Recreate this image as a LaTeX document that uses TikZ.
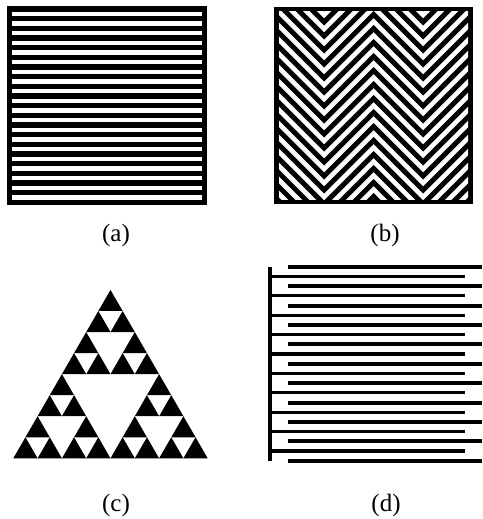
\documentclass[tikz,border=0pt]{standalone}
\usepackage{fontspec}
\setmainfont{Liberation Serif}
\tikzset{
  lbl/.style={inner sep=0pt, font=\fontsize{25}{28}\selectfont},
  whiteline/.style={draw=white, line width=4.6pt, line join=miter, line cap=butt},
}
\begin{document}
\begin{tikzpicture}[x=1pt,y=-1pt]
\useasboundingbox[fill=white] (0,0) rectangle (482,519);
% (a) horizontal stripes
\fill[black] (7,6) rectangle (207,205);
\foreach \i in {0,...,19}
  \fill[white] (12,{14+9.65*\i-2.15}) rectangle (202.3,{14+9.65*\i+2.15});
% (b) zigzag stripes
\fill[black] (274,7) rectangle (473,204);
\begin{scope}
  \clip (279,12) rectangle (468,199);
  \foreach \k in {0,...,19}{
    \pgfmathsetmacro{\c}{15+14*\k}
    \draw[whiteline] (260,{\c-64}) -- (324,\c) -- (373.5,{\c-49.5}) -- (423,\c) -- (487,{\c-64});
  }
\end{scope}
% (c) Sierpinski triangle
\foreach \ax/\ay in {0/0, 97.2/0, 48.6/-84.18}
  \foreach \bx/\by in {0/0, 48.6/0, 24.3/-42.09}
    \foreach \cx/\cy in {0/0, 24.3/0, 12.15/-21.045}
      \fill[black] ({13.3+\ax+\bx+\cx},{458.3+\ay+\by+\cy}) -- ++(24.3,0) -- ++(-12.15,-21.045) -- cycle;
% (d) interdigitated comb
\fill[black] (267.5,266.7) rectangle (272,460.7);
\foreach \i in {0,...,10}
  \fill[black] (288,{266.7+19.4*\i-2}) rectangle (482,{266.7+19.4*\i+2});
\foreach \i in {0,...,9}
  \fill[black] (270,{276.4+19.4*\i-1.6}) rectangle (465,{276.4+19.4*\i+1.6});
% labels
\node[lbl] (la) at (116,235) {(a)};
\node[lbl] (lb) at (385,235) {(b)};
\node[lbl] (lc) at (116,505) {(c)};
\node[lbl] (ld) at (386,505) {(d)};
\end{tikzpicture}
\end{document}
